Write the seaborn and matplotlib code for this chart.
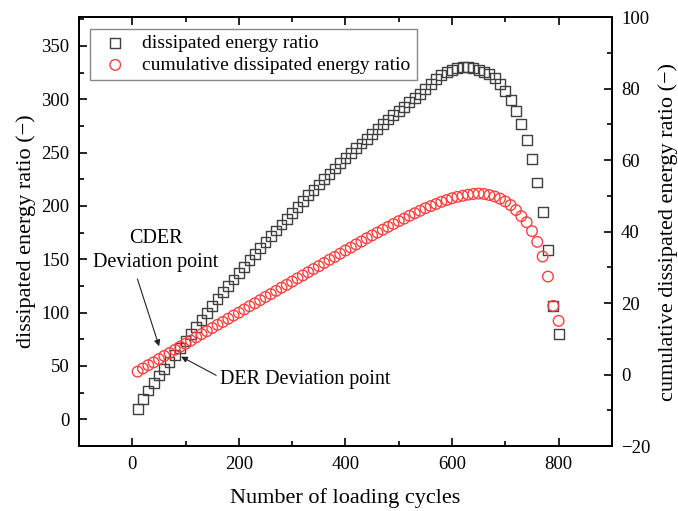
import matplotlib
matplotlib.use("Agg")
import matplotlib.pyplot as plt
from matplotlib.ticker import MultipleLocator
import seaborn as sns

# Loading cycles (every 10 cycles)
cycles = list(range(10, 801, 10))

# Dissipated energy ratio (left axis)
der = [10, 19, 27, 34, 41, 47.5, 54, 60.5, 67, 73.5,
       80, 86.5, 93, 99.5, 106, 112.5, 119, 125, 131, 137,
       143, 149, 155, 160.5, 166, 171.5, 177, 182.5, 188, 193.5,
       199, 204.5, 210, 215, 220, 225, 230, 235, 240, 245,
       249.5, 254, 258.5, 263, 267.5, 272, 276.5, 281, 285, 289,
       293, 297, 301, 305, 309.5, 314, 319, 323, 325.8, 327.7,
       329, 330, 330, 329.6, 327.7, 325.8, 323.6, 319.6, 314, 307.7,
       299, 289, 276.5, 262, 244, 222, 194, 158.7, 106.5, 79.7]

# Cumulative dissipated energy ratio (right axis)
cder = [0.8, 1.7, 2.6, 3.4, 4.3, 5.2, 6.0, 6.9, 7.8, 8.6,
        9.5, 10.4, 11.3, 12.1, 13.0, 13.9, 14.7, 15.6, 16.5, 17.3,
        18.2, 19.1, 19.9, 20.8, 21.7, 22.5, 23.4, 24.3, 25.1, 26.0,
        26.9, 27.7, 28.6, 29.5, 30.3, 31.2, 32.1, 32.9, 33.8, 34.7,
        35.5, 36.4, 37.2, 38.1, 38.9, 39.7, 40.5, 41.3, 42.1, 42.9,
        43.6, 44.4, 45.1, 45.8, 46.5, 47.1, 47.7, 48.3, 48.8, 49.3,
        49.7, 50.0, 50.3, 50.5, 50.6, 50.5, 50.2, 49.8, 49.2, 48.4,
        47.4, 46.0, 44.3, 42.6, 40.1, 37.1, 33.0, 27.4, 19.2, 15.0]

sns.set_style("ticks", rc={"axes.edgecolor": "black", "xtick.color": "black",
                           "ytick.color": "black", "text.color": "black",
                           "axes.labelcolor": "black"})
plt.rcParams["font.family"] = ["Liberation Serif", "DejaVu Serif"]

fig = plt.figure(figsize=(6.78, 5.11), dpi=100)
ax = fig.add_axes([0.1165, 0.1272, 0.786, 0.8395])
ax2 = ax.twinx()

sq_color = "#404040"
ci_color = "#ff4040"

sns.scatterplot(x=cycles, y=der, ax=ax, marker="s", s=50,
                facecolors="none", edgecolor=sq_color, linewidth=1.0, zorder=3)
sns.scatterplot(x=cycles, y=cder, ax=ax2, marker="o", s=58,
                facecolors="none", edgecolor=ci_color, linewidth=1.0, zorder=3)

ax.set_xlim(-100, 900)
ax.set_ylim(-25, 377)
ax2.set_ylim(-20, 100)

ax.xaxis.set_major_locator(MultipleLocator(200))
ax.xaxis.set_minor_locator(MultipleLocator(100))
ax.yaxis.set_major_locator(MultipleLocator(50))
ax.yaxis.set_minor_locator(MultipleLocator(25))
ax2.yaxis.set_major_locator(MultipleLocator(20))
ax2.yaxis.set_minor_locator(MultipleLocator(10))

ax.tick_params(which="both", direction="in", top=True, right=False,
               labelsize=13.5, width=1.2, pad=7)
ax.tick_params(which="major", length=6)
ax.tick_params(which="minor", length=3.5)
ax2.tick_params(which="both", direction="in", labelsize=13.5, width=1.2, pad=6.5)
ax2.tick_params(which="major", length=6)
ax2.tick_params(which="minor", length=3.5)

for a in (ax, ax2):
    for sp in a.spines.values():
        sp.set_linewidth(1.3)
        sp.set_color("black")

ax.set_xlabel("Number of loading cycles", fontsize=16, labelpad=11)
ax.set_ylabel("dissipated energy ratio (\u2212)", fontsize=16, labelpad=4)
ax2.set_ylabel("cumulative dissipated energy ratio (\u2212)", fontsize=16, labelpad=6)

# Deviation point annotations
arrow = dict(arrowstyle="-|>", color="#222222", lw=0.8, mutation_scale=9)
ax.annotate("", xy=(52, 66), xytext=(8, 134), arrowprops=arrow)
ax.text(44, 158, "CDER\nDeviation point", ha="center", va="center",
        multialignment="center", fontsize=14.5, linespacing=1.35)
ax.annotate("", xy=(87, 60), xytext=(162, 40), arrowprops=arrow)
ax.text(165, 37.5, "DER Deviation point", ha="left", va="center", fontsize=14.5)

handles = [ax.collections[0], ax2.collections[0]]
labels = ["dissipated energy ratio", "cumulative dissipated energy ratio"]
leg = ax2.legend(handles, labels, loc="upper left", bbox_to_anchor=(0.0206, 0.972),
                 borderaxespad=0, fontsize=14, frameon=True, fancybox=False,
                 edgecolor="#888888", framealpha=1, borderpad=0.3,
                 handletextpad=0.4, labelspacing=0.2, handlelength=2.0)
leg.get_frame().set_linewidth(1.0)

fig.savefig("out.png", dpi=100)
